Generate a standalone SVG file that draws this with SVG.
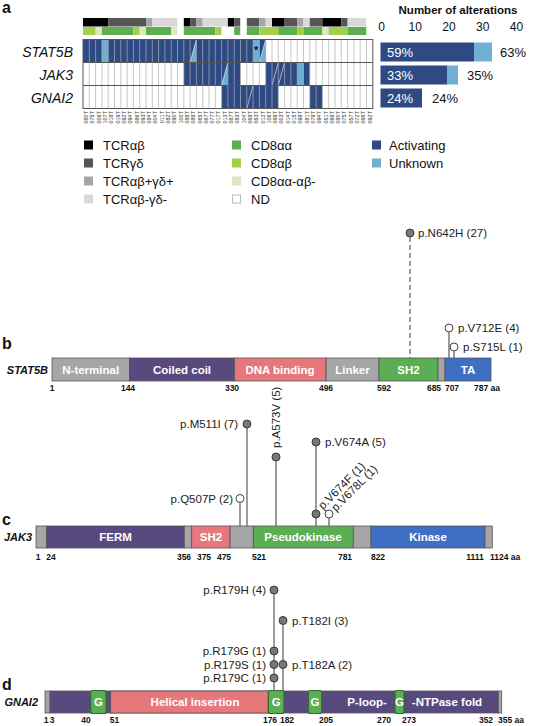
<svg xmlns="http://www.w3.org/2000/svg" width="544" height="726" viewBox="0 0 544 726">
<style>
text{font-family:"Liberation Sans",Arial,Helvetica,sans-serif;fill:#111}
.pl{font-size:16px;font-weight:bold}
.gl{font-size:14px;font-style:italic;text-anchor:end}
.lg{font-size:13px}
.sid{font-size:5.5px;fill:#333;text-anchor:end}
.ax{font-size:12px;text-anchor:middle}
.pct{font-size:13px}
.pw{fill:#fff}
.dom{font-size:11.5px;font-weight:bold;fill:#fff;text-anchor:middle}
.num{font-size:8.5px;font-weight:bold;text-anchor:middle}
.nums{font-size:8.5px;font-weight:bold;text-anchor:start}
.gn{font-size:11px;font-weight:bold;font-style:italic;text-anchor:end}
.mut{font-size:11.5px;fill:#222}
.act{fill:#2d4a84}
.unk{fill:#6fb0d2}
.tB{fill:#000}.tD{fill:#555}.tM{fill:#a6a6a6}.tL{fill:#d9d9d9}.tW{fill:#fff}
.cG{fill:#5cae4f}.cLG{fill:#a3cf4d}.cP{fill:#dfe6c2}
.gy{fill:#a6a6a6}.pu{fill:#584a7e}.sa{fill:#e6787c}.gr{fill:#5cae55}.bl{fill:#3f6fc4}
.seg{stroke:#555;stroke-width:0.8}
.gbox{fill:#5cae55;stroke:#2f6e2c;stroke-width:1.2}
.stem{stroke:#666;stroke-width:1.3;fill:none}
.dot{fill:#777;stroke:#3a3a3a;stroke-width:1}
.odot{fill:#fff;stroke:#444;stroke-width:1}
.vl{stroke:#b0b0b0;stroke-width:0.7}
.dg{stroke:#fff;stroke-width:0.6}
</style>

<!-- Panel a -->
<g id="panel-a">
<text class="pl" x="2" y="13">a</text>
<g id="heatmap-annot">
<rect class="tB" x="83" y="18" width="25.2" height="8.5"/>
<rect class="tD" x="108.2" y="18" width="37.8" height="8.5"/>
<rect class="tM" x="146" y="18" width="6.3" height="8.5"/>
<rect class="tL" x="152.3" y="18" width="25.2" height="8.5"/>
<rect class="tW" x="177.5" y="18" width="6.3" height="8.5"/>
<rect class="tB" x="183.8" y="18" width="6.3" height="8.5"/>
<rect class="tD" x="190.1" y="18" width="6.3" height="8.5"/>
<rect class="tM" x="196.4" y="18" width="6.3" height="8.5"/>
<rect class="tL" x="202.7" y="18" width="25.2" height="8.5"/>
<rect class="tB" x="227.9" y="18" width="6.3" height="8.5"/>
<rect class="tD" x="234.2" y="18" width="6.3" height="8.5"/>
<rect class="tW" x="240.5" y="18" width="6.3" height="8.5"/>
<rect class="tD" x="246.8" y="18" width="12.6" height="8.5"/>
<rect class="tM" x="259.4" y="18" width="6.3" height="8.5"/>
<rect class="tL" x="265.7" y="18" width="6.3" height="8.5"/>
<rect class="tB" x="272" y="18" width="12.6" height="8.5"/>
<rect class="tD" x="284.6" y="18" width="12.6" height="8.5"/>
<rect class="tM" x="297.2" y="18" width="6.3" height="8.5"/>
<rect class="tL" x="303.5" y="18" width="6.3" height="8.5"/>
<rect class="tD" x="309.8" y="18" width="12.6" height="8.5"/>
<rect class="tB" x="322.4" y="18" width="18.9" height="8.5"/>
<rect class="tD" x="341.3" y="18" width="6.3" height="8.5"/>
<rect class="tL" x="347.6" y="18" width="18.9" height="8.5"/>
<rect class="tW" x="366.5" y="18" width="6.3" height="8.5"/>
<rect class="cLG" x="83" y="27" width="12.6" height="8"/>
<rect class="cP" x="95.6" y="27" width="6.3" height="8"/>
<rect class="cG" x="101.9" y="27" width="31.5" height="8"/>
<rect class="cLG" x="133.4" y="27" width="6.3" height="8"/>
<rect class="cP" x="139.7" y="27" width="6.3" height="8"/>
<rect class="cG" x="146" y="27" width="25.2" height="8"/>
<rect class="cP" x="171.2" y="27" width="6.3" height="8"/>
<rect class="tW" x="177.5" y="27" width="6.3" height="8"/>
<rect class="cG" x="183.8" y="27" width="31.5" height="8"/>
<rect class="cLG" x="215.3" y="27" width="6.3" height="8"/>
<rect class="tW" x="221.6" y="27" width="12.6" height="8"/>
<rect class="cG" x="234.2" y="27" width="6.3" height="8"/>
<rect class="tW" x="240.5" y="27" width="6.3" height="8"/>
<rect class="cG" x="246.8" y="27" width="12.6" height="8"/>
<rect class="cLG" x="259.4" y="27" width="18.9" height="8"/>
<rect class="cG" x="278.3" y="27" width="18.9" height="8"/>
<rect class="cLG" x="297.2" y="27" width="6.3" height="8"/>
<rect class="cG" x="303.5" y="27" width="18.9" height="8"/>
<rect class="cP" x="322.4" y="27" width="6.3" height="8"/>
<rect class="cLG" x="328.7" y="27" width="18.9" height="8"/>
<rect class="cG" x="347.6" y="27" width="18.9" height="8"/>
<rect class="tW" x="366.5" y="27" width="6.3" height="8"/>
</g>

<g id="heatmap-grid">
<rect x="83" y="39.5" width="289.8" height="69" fill="#fff"/>
<rect class="act" x="83" y="39.5" width="182.7" height="23"/>
<rect class="unk" x="101.9" y="39.5" width="6.3" height="23"/>
<rect class="unk" x="253.1" y="39.5" width="6.3" height="23"/>
<polygon class="unk" points="190.1,62.5 196.4,39.5 196.4,62.5"/>
<line class="dg" x1="190.1" y1="62.5" x2="196.4" y2="39.5"/>
<polygon class="unk" points="259.4,62.5 265.7,39.5 265.7,62.5"/>
<line class="dg" x1="259.4" y1="62.5" x2="265.7" y2="39.5"/>
<text x="256.25" y="54" font-size="11" font-weight="bold" text-anchor="middle">*</text>
<rect class="act" x="183.8" y="62.5" width="56.7" height="23"/>
<rect class="act" x="265.7" y="62.5" width="44.1" height="23"/>
<polygon class="unk" points="221.6,85.5 227.9,62.5 227.9,85.5"/>
<line class="dg" x1="221.6" y1="85.5" x2="227.9" y2="62.5"/>
<line class="dg" x1="272" y1="85.5" x2="278.3" y2="62.5"/>
<line class="dg" x1="278.3" y1="85.5" x2="284.6" y2="62.5"/>
<polygon class="unk" points="297.2,85.5 297.2,62.5 303.5,62.5 303.5,85.5"/>
<rect class="act" x="221.6" y="85.5" width="56.7" height="23"/>
<rect class="act" x="309.8" y="85.5" width="12.6" height="23"/>
<line class="dg" x1="246.8" y1="108.5" x2="253.1" y2="85.5"/>
<path class="vl" d="M89.3 39.5V108.5M95.6 39.5V108.5M101.9 39.5V108.5M108.2 39.5V108.5M114.5 39.5V108.5M120.8 39.5V108.5M127.1 39.5V108.5M133.4 39.5V108.5M139.7 39.5V108.5M146 39.5V108.5M152.3 39.5V108.5M158.6 39.5V108.5M164.9 39.5V108.5M171.2 39.5V108.5M177.5 39.5V108.5M183.8 39.5V108.5M190.1 39.5V108.5M196.4 39.5V108.5M202.7 39.5V108.5M209 39.5V108.5M215.3 39.5V108.5M221.6 39.5V108.5M227.9 39.5V108.5M234.2 39.5V108.5M240.5 39.5V108.5M246.8 39.5V108.5M253.1 39.5V108.5M259.4 39.5V108.5M265.7 39.5V108.5M272 39.5V108.5M278.3 39.5V108.5M284.6 39.5V108.5M290.9 39.5V108.5M297.2 39.5V108.5M303.5 39.5V108.5M309.8 39.5V108.5M316.1 39.5V108.5M322.4 39.5V108.5M328.7 39.5V108.5M335 39.5V108.5M341.3 39.5V108.5M347.6 39.5V108.5M353.9 39.5V108.5M360.2 39.5V108.5M366.5 39.5V108.5"/>
<path d="M83 62.5H372.8M83 85.5H372.8" stroke="#555" stroke-width="1"/>
<rect x="83" y="39.5" width="289.8" height="69" fill="none" stroke="#555" stroke-width="1"/>
</g>

<g id="heatmap-genes">
<text class="gl" x="73" y="57">STAT5B</text>
<text class="gl" x="73" y="80">JAK3</text>
<text class="gl" x="73" y="103">GNAI2</text>
</g>

<g id="sample-ids">
<text class="sid" transform="translate(88.15,111) rotate(-90)">080T</text>
<text class="sid" transform="translate(94.45,111) rotate(-90)">075T</text>
<text class="sid" transform="translate(100.75,111) rotate(-90)">006T</text>
<text class="sid" transform="translate(107.05,111) rotate(-90)">107T</text>
<text class="sid" transform="translate(113.35,111) rotate(-90)">018T</text>
<text class="sid" transform="translate(119.65,111) rotate(-90)">019T</text>
<text class="sid" transform="translate(125.95,111) rotate(-90)">092T</text>
<text class="sid" transform="translate(132.25,111) rotate(-90)">094T</text>
<text class="sid" transform="translate(138.55,111) rotate(-90)">086T</text>
<text class="sid" transform="translate(144.85,111) rotate(-90)">093T</text>
<text class="sid" transform="translate(151.15,111) rotate(-90)">084T</text>
<text class="sid" transform="translate(157.45,111) rotate(-90)">004T</text>
<text class="sid" transform="translate(163.75,111) rotate(-90)">011T</text>
<text class="sid" transform="translate(170.05,111) rotate(-90)">082T</text>
<text class="sid" transform="translate(176.35,111) rotate(-90)">090T</text>
<text class="sid" transform="translate(182.65,111) rotate(-90)">100T</text>
<text class="sid" transform="translate(188.95,111) rotate(-90)">088T</text>
<text class="sid" transform="translate(195.25,111) rotate(-90)">089T</text>
<text class="sid" transform="translate(201.55,111) rotate(-90)">065T</text>
<text class="sid" transform="translate(207.85,111) rotate(-90)">067T</text>
<text class="sid" transform="translate(214.15,111) rotate(-90)">077T</text>
<text class="sid" transform="translate(220.45,111) rotate(-90)">017T</text>
<text class="sid" transform="translate(226.75,111) rotate(-90)">013T</text>
<text class="sid" transform="translate(233.05,111) rotate(-90)">087T</text>
<text class="sid" transform="translate(239.35,111) rotate(-90)">083T</text>
<text class="sid" transform="translate(245.65,111) rotate(-90)">104T</text>
<text class="sid" transform="translate(251.95,111) rotate(-90)">068T</text>
<text class="sid" transform="translate(258.25,111) rotate(-90)">063T</text>
<text class="sid" transform="translate(264.55,111) rotate(-90)">012T</text>
<text class="sid" transform="translate(270.85,111) rotate(-90)">106T</text>
<text class="sid" transform="translate(277.15,111) rotate(-90)">069T</text>
<text class="sid" transform="translate(283.45,111) rotate(-90)">003T</text>
<text class="sid" transform="translate(289.75,111) rotate(-90)">014T</text>
<text class="sid" transform="translate(296.05,111) rotate(-90)">015T</text>
<text class="sid" transform="translate(302.35,111) rotate(-90)">099T</text>
<text class="sid" transform="translate(308.65,111) rotate(-90)">081T</text>
<text class="sid" transform="translate(314.95,111) rotate(-90)">079T</text>
<text class="sid" transform="translate(321.25,111) rotate(-90)">094T</text>
<text class="sid" transform="translate(327.55,111) rotate(-90)">051T</text>
<text class="sid" transform="translate(333.85,111) rotate(-90)">066T</text>
<text class="sid" transform="translate(340.15,111) rotate(-90)">080T</text>
<text class="sid" transform="translate(346.45,111) rotate(-90)">075T</text>
<text class="sid" transform="translate(352.75,111) rotate(-90)">057T</text>
<text class="sid" transform="translate(359.05,111) rotate(-90)">072T</text>
<text class="sid" transform="translate(365.35,111) rotate(-90)">066T</text>
<text class="sid" transform="translate(371.65,111) rotate(-90)">092T</text>
</g>

<g id="barchart">
<text x="458" y="14" text-anchor="middle" font-weight="bold" font-size="11.5px">Number of alterations</text>
<text class="ax" x="381.5" y="31">0</text>
<text class="ax" x="415.25" y="31">10</text>
<text class="ax" x="449" y="31">20</text>
<text class="ax" x="482.75" y="31">30</text>
<text class="ax" x="516.5" y="31">40</text>
<rect class="act" x="380.5" y="42.5" width="93.5" height="19"/>
<rect class="unk" x="474" y="42.5" width="18" height="19"/>
<text class="pct pw" x="387" y="57">59%</text>
<text class="pct" x="500" y="57">63%</text>
<rect class="act" x="380.5" y="65.5" width="66.5" height="19"/>
<rect class="unk" x="447" y="65.5" width="11" height="19"/>
<text class="pct pw" x="387" y="80">33%</text>
<text class="pct" x="467" y="80">35%</text>
<rect class="act" x="380.5" y="88.5" width="41.5" height="19"/>
<text class="pct pw" x="387" y="103">24%</text>
<text class="pct" x="432" y="103">24%</text>
</g>

<g id="legend">
<rect class="tB" x="84" y="140.5" width="9" height="9"/><text class="lg" x="103" y="149.5">TCRαβ</text>
<rect class="tD" x="84" y="158.5" width="9" height="9"/><text class="lg" x="103" y="167.5">TCRγδ</text>
<rect class="tM" x="84" y="176.5" width="9" height="9"/><text class="lg" x="103" y="185.5">TCRαβ+γδ+</text>
<rect class="tL" x="84" y="194.5" width="9" height="9"/><text class="lg" x="103" y="203.5">TCRαβ-γδ-</text>
<rect class="cG" x="232" y="140.5" width="9" height="9"/><text class="lg" x="251" y="149.5">CD8αα</text>
<rect class="cLG" x="232" y="158.5" width="9" height="9"/><text class="lg" x="251" y="167.5">CD8αβ</text>
<rect class="cP" x="232" y="176.5" width="9" height="9"/><text class="lg" x="251" y="185.5">CD8αα-αβ-</text>
<rect x="232.5" y="195" width="8" height="8" fill="#fff" stroke="#bbb" stroke-width="1"/><text class="lg" x="251" y="203.5">ND</text>
<rect class="act" x="372" y="140.5" width="9" height="9"/><text class="lg" x="389" y="149.5">Activating</text>
<rect class="unk" x="372" y="158.5" width="9" height="9"/><text class="lg" x="389" y="167.5">Unknown</text>
</g>
</g>

<!-- Panel b: STAT5B -->
<g id="panel-b">
<text class="pl" x="2" y="349">b</text>
<g id="stat5b-protein">
<text class="gn" x="48" y="373.5">STAT5B</text>
<rect class="gy seg" x="52" y="358" width="77.5" height="23"/>
<rect class="pu seg" x="129.5" y="358" width="105" height="23"/>
<rect class="sa seg" x="234.5" y="358" width="91.5" height="23"/>
<rect class="gy seg" x="326" y="358" width="53" height="23"/>
<rect class="gr seg" x="379" y="358" width="59" height="23"/>
<rect class="gy seg" x="438" y="358" width="7" height="23"/>
<rect class="bl seg" x="445" y="358" width="46" height="23"/>
<text class="dom" x="90.7" y="373.5">N-terminal</text>
<text class="dom" x="182" y="373.5">Coiled coil</text>
<text class="dom" x="280" y="373.5">DNA binding</text>
<text class="dom" x="352.5" y="373.5">Linker</text>
<text class="dom" x="408.5" y="373.5">SH2</text>
<text class="dom" x="468" y="373.5">TA</text>
<text class="num" x="52" y="391">1</text>
<text class="num" x="128" y="391">144</text>
<text class="num" x="232" y="391">330</text>
<text class="num" x="326" y="391">496</text>
<text class="num" x="384" y="391">592</text>
<text class="num" x="434" y="391">685</text>
<text class="num" x="452" y="391">707</text>
<text class="nums" x="474" y="391">787 aa</text>
</g>
<g id="stat5b-mutations">
<line class="stem" x1="410" y1="237" x2="410" y2="358" stroke-dasharray="5,3"/>
<circle class="dot" cx="410" cy="233" r="4"/>
<text class="mut" x="418" y="237">p.N642H (27)</text>
<line class="stem" x1="449" y1="332" x2="449" y2="358"/>
<circle class="odot" cx="449" cy="328" r="4"/>
<text class="mut" x="458" y="332">p.V712E (4)</text>
<line class="stem" x1="454" y1="351" x2="454" y2="358"/>
<circle class="odot" cx="454" cy="347" r="4"/>
<text class="mut" x="463" y="351">p.S715L (1)</text>
</g>
</g>

<!-- Panel c: JAK3 -->
<g id="panel-c">
<text class="pl" x="2" y="525">c</text>
<g id="jak3-protein">
<text class="gn" x="32" y="541">JAK3</text>
<rect class="gy seg" x="36" y="526" width="10.7" height="22"/>
<rect class="pu seg" x="46.7" y="526" width="137.6" height="22"/>
<rect class="gy seg" x="184.3" y="526" width="7.4" height="22"/>
<rect class="sa seg" x="191.7" y="526" width="38.3" height="22"/>
<rect class="gy seg" x="230" y="526" width="23.3" height="22"/>
<rect class="gr seg" x="253.3" y="526" width="100" height="22"/>
<rect class="gy seg" x="353.3" y="526" width="17.7" height="22"/>
<rect class="bl seg" x="371" y="526" width="114" height="22"/>
<rect class="gy seg" x="485" y="526" width="7.3" height="22"/>
<text class="dom" x="115.5" y="541">FERM</text>
<text class="dom" x="211" y="541">SH2</text>
<text class="dom" x="303" y="541">Pseudokinase</text>
<text class="dom" x="428" y="541">Kinase</text>
<text class="num" x="38" y="560">1</text>
<text class="num" x="51" y="560">24</text>
<text class="num" x="184" y="560">356</text>
<text class="num" x="204" y="560">375</text>
<text class="num" x="224" y="560">475</text>
<text class="num" x="259" y="560">521</text>
<text class="num" x="345" y="560">781</text>
<text class="num" x="378" y="560">822</text>
<text class="num" x="475" y="560">1111</text>
<text class="nums" x="490" y="560">1124 aa</text>
</g>
<g id="jak3-mutations">
<line class="stem" x1="240" y1="502.5" x2="240" y2="526"/>
<circle class="odot" cx="240" cy="498.5" r="4"/>
<text class="mut" x="233" y="502.5" text-anchor="end">p.Q507P (2)</text>
<line class="stem" x1="247" y1="428" x2="247" y2="526"/>
<circle class="dot" cx="247" cy="424" r="4"/>
<text class="mut" x="238" y="428" text-anchor="end">p.M511I (7)</text>
<line class="stem" x1="276" y1="461" x2="276" y2="526"/>
<circle class="dot" cx="276" cy="457" r="4"/>
<text class="mut" transform="translate(280,448) rotate(-90)">p.A573V (5)</text>
<line class="stem" x1="316" y1="446" x2="316" y2="526"/>
<circle class="dot" cx="316" cy="442" r="4"/>
<text class="mut" x="325" y="446">p.V674A (5)</text>
<circle class="dot" cx="316" cy="514" r="4"/>
<text class="mut" transform="translate(323,510) rotate(-45)">p.V674F (1)</text>
<line class="stem" x1="329" y1="518" x2="329" y2="526"/>
<circle class="odot" cx="329" cy="514" r="4"/>
<text class="mut" transform="translate(336,512) rotate(-45)">p.V678L (1)</text>
</g>
</g>

<!-- Panel d: GNAI2 -->
<g id="panel-d">
<text class="pl" x="2" y="690">d</text>
<g id="gnai2-protein">
<text class="gn" x="38" y="706">GNAI2</text>
<rect class="gy seg" x="45" y="691" width="5" height="22"/>
<rect class="pu seg" x="50" y="691" width="448.3" height="22"/>
<rect class="sa seg" x="110.7" y="691" width="157.6" height="22"/>
<rect class="gy seg" x="498.3" y="691" width="3.4" height="22"/>
<rect class="gbox" x="90.7" y="690.5" width="15.3" height="23" rx="2"/>
<rect class="gbox" x="268.3" y="690.5" width="15.7" height="23" rx="2"/>
<rect class="gbox" x="308.3" y="690.5" width="13.4" height="23" rx="2"/>
<rect class="gbox" x="395" y="690.5" width="9" height="23" rx="2"/>
<text class="dom" x="98.4" y="706">G</text>
<text class="dom" x="276.2" y="706">G</text>
<text class="dom" x="315" y="706">G</text>
<text class="dom" x="399.5" y="706">G</text>
<text class="dom" x="195" y="706">Helical insertion</text>
<text class="dom" x="367" y="706">P-loop-</text>
<text class="dom" x="447" y="706">-NTPase fold</text>
<text class="num" x="46" y="723">1</text>
<text class="num" x="52" y="723">3</text>
<text class="num" x="86" y="723">40</text>
<text class="num" x="114.5" y="723">51</text>
<text class="num" x="270" y="723">176</text>
<text class="num" x="287" y="723">182</text>
<text class="num" x="326" y="723">205</text>
<text class="num" x="384" y="723">270</text>
<text class="num" x="409" y="723">273</text>
<text class="num" x="486" y="723">352</text>
<text class="nums" x="498" y="723">355 aa</text>
</g>
<g id="gnai2-mutations">
<line class="stem" x1="274" y1="594" x2="274" y2="691"/>
<line class="stem" x1="283" y1="624.5" x2="283" y2="691"/>
<circle class="dot" cx="274" cy="590" r="4"/>
<text class="mut" x="266" y="594" text-anchor="end">p.R179H (4)</text>
<circle class="dot" cx="283" cy="620.5" r="4"/>
<text class="mut" x="292" y="624.5">p.T182I (3)</text>
<circle class="dot" cx="274" cy="651" r="4"/>
<text class="mut" x="266" y="655" text-anchor="end">p.R179G (1)</text>
<circle class="dot" cx="274" cy="664.5" r="4"/>
<text class="mut" x="266" y="668.5" text-anchor="end">p.R179S (1)</text>
<circle class="dot" cx="283" cy="664.5" r="4"/>
<text class="mut" x="292" y="668.5">p.T182A (2)</text>
<circle class="dot" cx="274" cy="678" r="4"/>
<text class="mut" x="266" y="682" text-anchor="end">p.R179C (1)</text>
</g>
</g>
</svg>
